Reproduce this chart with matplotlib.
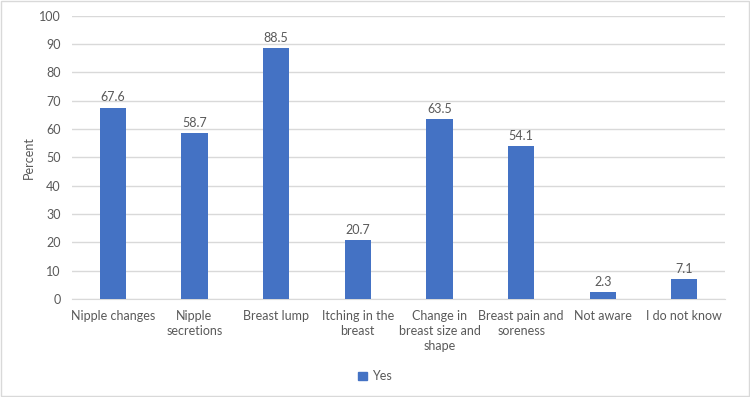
import numpy as np
import matplotlib.pyplot as plt
import matplotlib.patches as mpatches

categories = ['Nipple changes', 'Nipple\nsecretions', 'Breast lump', 'Itching in the\nbreast',
              'Change in\nbreast size and\nshape', 'Breast pain and\nsoreness', 'Not aware', 'I do not know']
yes_pct = [67.6, 58.7, 88.5, 20.7, 63.5, 54.1, 2.3, 7.1]

plt.rcParams['font.family'] = ['Lato', 'DejaVu Sans']
txt = '#595959'
bar_color = '#4472C4'

fig = plt.figure(figsize=(7.5, 3.97), dpi=100)
ax = fig.add_axes([0.096, 0.247, 0.871, 0.713])

x = np.arange(len(categories))
ax.bar(x, yes_pct, width=0.32, color=bar_color, zorder=3)
for xi, v in zip(x, yes_pct):
    ax.text(xi, v + 1.5, '%.1f' % v, ha='center', va='bottom', fontsize=9, color=txt)

ax.set_xlim(-0.5, len(categories) - 0.5)
ax.set_ylim(0, 100)
ax.set_yticks(np.arange(0, 101, 10))
ax.set_xticks(x)
ax.set_xticklabels(categories, fontsize=9, color=txt, linespacing=1.3, va='top')
ax.tick_params(axis='y', labelsize=9, labelcolor=txt, length=0, pad=8)
ax.tick_params(axis='x', length=0, pad=8)
ax.grid(axis='y', color='#d9d9d9', linewidth=1, zorder=0)
for s in ['top', 'right', 'left']:
    ax.spines[s].set_visible(False)
ax.spines['bottom'].set_color('#d9d9d9')
ax.set_ylabel('Percent', fontsize=9, color=txt, labelpad=3)

leg = mpatches.Patch(color=bar_color)
fig.legend(handles=[leg], labels=['Yes'], loc='center', bbox_to_anchor=(0.5, 0.052),
           frameon=False, fontsize=9, labelcolor=txt, handlelength=0.7, handleheight=0.7,
           handletextpad=0.4)

fig.patches.append(mpatches.Rectangle((0.001, 0.002), 0.997, 0.995, transform=fig.transFigure,
                                      fill=False, edgecolor='#d9d9d9', linewidth=1))

fig.savefig('out.png', dpi=100)
